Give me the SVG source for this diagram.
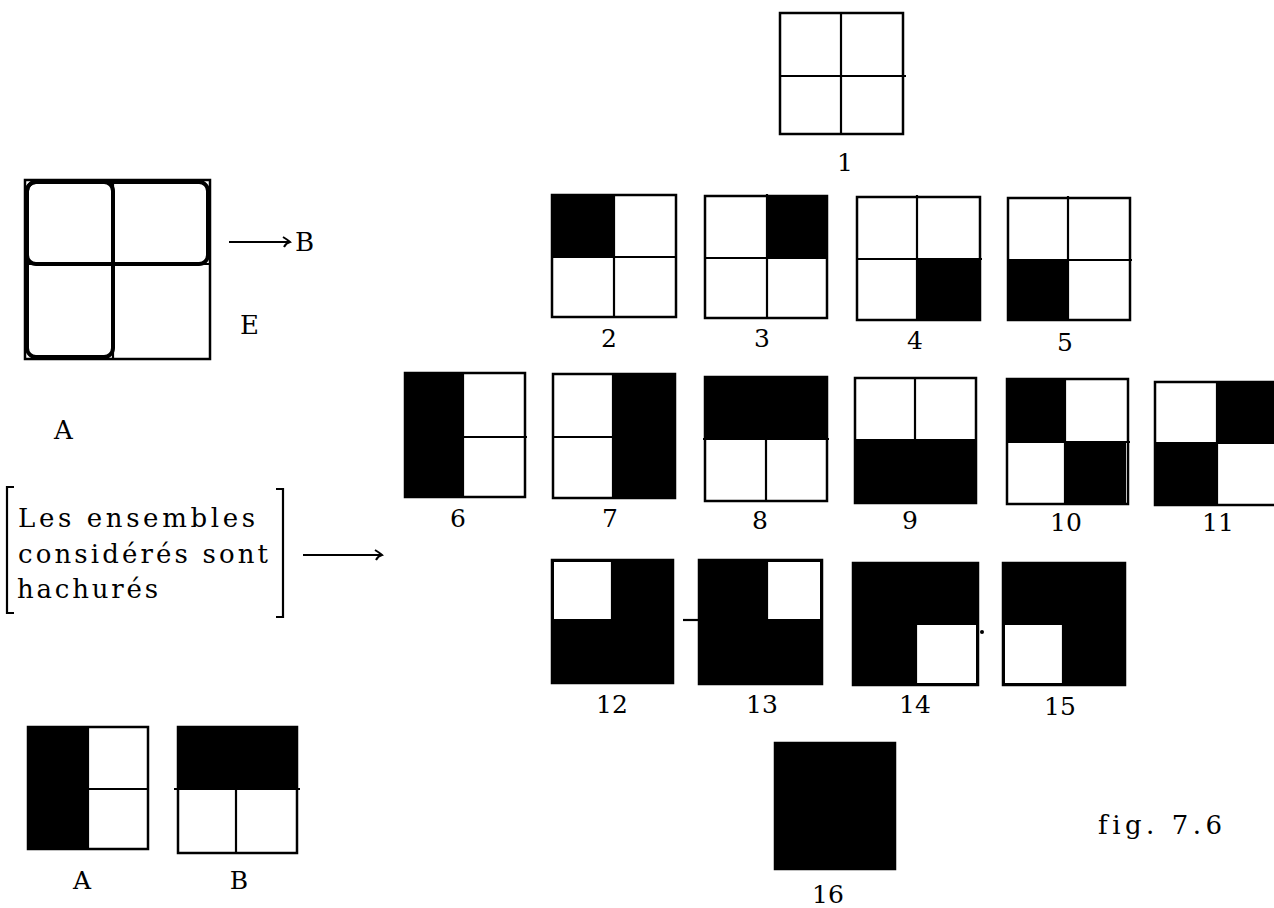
<svg xmlns="http://www.w3.org/2000/svg" width="1274" height="908" viewBox="0 0 1274 908">
<style>
.box{fill:none;stroke:#000;stroke-width:2.5}
.ln{stroke:#000;stroke-width:2.2;fill:none}
.f{fill:#000}
.t{font-family:"DejaVu Serif","Liberation Serif",serif;font-size:26px;fill:#000;font-variant-ligatures:none}
.n{font-family:"DejaVu Serif","Liberation Serif",serif;font-size:25px;fill:#000;text-anchor:middle}
.th{fill:none;stroke:#000;stroke-width:4}
</style>
<defs>
<marker id="ah" viewBox="0 0 12 12" refX="10" refY="6" markerWidth="12" markerHeight="12" markerUnits="userSpaceOnUse" orient="auto">
<path d="M3,1 Q8,4 10,6 Q6,7 4,11" fill="none" stroke="#000" stroke-width="2"/>
</marker>
</defs>
<rect width="1274" height="908" fill="#fff"/>

<g id="venn">
<rect class="box" x="25" y="180" width="185" height="179"/>
<line class="ln" x1="113" y1="180" x2="113" y2="359"/>
<line class="ln" x1="25" y1="264" x2="210" y2="264"/>
<rect class="th" x="27" y="182" width="181" height="82" rx="9"/>
<rect class="th" x="27" y="182" width="86" height="175" rx="9"/>
<text class="t" x="240" y="334">E</text>
<text class="t" x="54" y="439">A</text>
<text class="t" x="295" y="251">B</text>
</g>

<g id="note">
<path class="ln" d="M14,487 L7,487 L7,613 L14,613"/>
<path class="ln" d="M276,489 L283,489 L283,617 L276,617"/>
<text class="t" x="18" y="527" textLength="237" lengthAdjust="spacing">Les ensembles</text>
<text class="t" x="18" y="563" textLength="250" lengthAdjust="spacing">considérés sont</text>
<text class="t" x="17" y="598" textLength="141" lengthAdjust="spacing">hachurés</text>
</g>

<g id="setA">
<rect class="f" x="28" y="727" width="60" height="122"/>
<rect class="box" x="28" y="727" width="120" height="122"/>
<line class="ln" x1="88" y1="727" x2="88" y2="849"/>
<line class="ln" x1="88" y1="789" x2="148" y2="789"/>
<text class="n" x="82" y="889">A</text>
</g>
<g id="setB">
<rect class="f" x="178" y="727" width="119" height="62"/>
<rect class="box" x="178" y="727" width="119" height="126"/>
<line class="ln" x1="236" y1="789" x2="236" y2="853"/>
<line class="ln" x1="174" y1="789" x2="300" y2="789"/>
<text class="n" x="239" y="889">B</text>
</g>

<g id="b1">
<rect class="box" x="780" y="13" width="123" height="121"/>
<line class="ln" x1="841" y1="13" x2="841" y2="134"/>
<line class="ln" x1="780" y1="76" x2="906" y2="76"/>
<text class="n" x="845" y="171">1</text>
</g>

<g id="b2">
<rect class="f" x="552" y="195" width="62" height="62"/>
<rect class="box" x="552" y="195" width="124" height="122"/>
<line class="ln" x1="614" y1="195" x2="614" y2="317"/>
<line class="ln" x1="552" y1="257" x2="676" y2="257"/>
<text class="n" x="609" y="347">2</text>
</g>
<g id="b3">
<rect class="f" x="767" y="196" width="60" height="62"/>
<rect class="box" x="705" y="196" width="122" height="122"/>
<line class="ln" x1="767" y1="194" x2="767" y2="318"/>
<line class="ln" x1="705" y1="258" x2="827" y2="258"/>
<text class="n" x="762" y="347">3</text>
</g>
<g id="b4">
<rect class="f" x="917" y="259" width="63" height="61"/>
<rect class="box" x="857" y="197" width="123" height="123"/>
<line class="ln" x1="917" y1="195" x2="917" y2="320"/>
<line class="ln" x1="857" y1="259" x2="982" y2="259"/>
<text class="n" x="915" y="349">4</text>
</g>
<g id="b5">
<rect class="f" x="1008" y="260" width="60" height="60"/>
<rect class="box" x="1008" y="198" width="122" height="122"/>
<line class="ln" x1="1068" y1="196" x2="1068" y2="320"/>
<line class="ln" x1="1008" y1="260" x2="1132" y2="260"/>
<text class="n" x="1065" y="351">5</text>
</g>

<g id="b6">
<rect class="f" x="405" y="373" width="58" height="124"/>
<rect class="box" x="405" y="373" width="120" height="124"/>
<line class="ln" x1="463" y1="373" x2="463" y2="497"/>
<line class="ln" x1="463" y1="437" x2="527" y2="437"/>
<text class="n" x="458" y="527">6</text>
</g>
<g id="b7">
<rect class="f" x="613" y="374" width="62" height="124"/>
<rect class="box" x="553" y="374" width="122" height="124"/>
<line class="ln" x1="613" y1="374" x2="613" y2="498"/>
<line class="ln" x1="553" y1="437" x2="613" y2="437"/>
<text class="n" x="610" y="527">7</text>
</g>
<g id="b8">
<rect class="f" x="705" y="377" width="122" height="62"/>
<rect class="box" x="705" y="377" width="122" height="124"/>
<line class="ln" x1="766" y1="439" x2="766" y2="501"/>
<line class="ln" x1="703" y1="439" x2="829" y2="439"/>
<text class="n" x="760" y="529">8</text>
</g>
<g id="b9">
<rect class="f" x="855" y="440" width="121" height="63"/>
<rect class="box" x="855" y="378" width="121" height="125"/>
<line class="ln" x1="915" y1="378" x2="915" y2="440"/>
<line class="ln" x1="855" y1="440" x2="976" y2="440"/>
<text class="n" x="910" y="529">9</text>
</g>
<g id="b10">
<rect class="f" x="1007" y="379" width="58" height="63"/>
<rect class="f" x="1065" y="442" width="61" height="62"/>
<rect class="box" x="1007" y="379" width="121" height="125"/>
<line class="ln" x1="1065" y1="379" x2="1065" y2="504"/>
<line class="ln" x1="1007" y1="442" x2="1130" y2="442"/>
<text class="n" x="1066" y="531">10</text>
</g>
<g id="b11">
<rect class="f" x="1217" y="382" width="60" height="61"/>
<rect class="f" x="1155" y="443" width="62" height="62"/>
<rect class="box" x="1155" y="382" width="122" height="123"/>
<line class="ln" x1="1217" y1="382" x2="1217" y2="505"/>
<line class="ln" x1="1155" y1="443" x2="1277" y2="443"/>
<text class="n" x="1218" y="531">11</text>
</g>

<g id="b12">
<rect class="f" x="552" y="560" width="121" height="123"/>
<rect fill="#fff" x="554" y="562" width="58" height="58"/>
<rect class="box" x="552" y="560" width="121" height="123"/>
<line class="ln" x1="552" y1="620" x2="612" y2="620"/>
<line class="ln" x1="612" y1="560" x2="612" y2="620"/>
<text class="n" x="612" y="713">12</text>
</g>
<g id="b13">
<rect class="f" x="699" y="560" width="123" height="124"/>
<rect fill="#fff" x="767" y="562" width="53" height="58"/>
<rect class="box" x="699" y="560" width="123" height="124"/>
<line class="ln" x1="767" y1="620" x2="822" y2="620"/>
<line class="ln" x1="767" y1="560" x2="767" y2="620"/>
<line class="ln" x1="683" y1="620" x2="699" y2="620"/>
<text class="n" x="762" y="713">13</text>
</g>
<g id="b14">
<rect class="f" x="853" y="563" width="125" height="122"/>
<rect fill="#fff" x="916" y="624" width="60" height="59"/>
<rect class="box" x="853" y="563" width="125" height="122"/>
<line class="ln" x1="916" y1="624" x2="978" y2="624"/>
<line class="ln" x1="916" y1="624" x2="916" y2="685"/>
<circle class="f" cx="982" cy="632" r="2"/>
<text class="n" x="915" y="713">14</text>
</g>
<g id="b15">
<rect class="f" x="1003" y="563" width="122" height="122"/>
<rect fill="#fff" x="1005" y="624" width="58" height="59"/>
<rect class="box" x="1003" y="563" width="122" height="122"/>
<line class="ln" x1="1003" y1="624" x2="1063" y2="624"/>
<line class="ln" x1="1063" y1="624" x2="1063" y2="685"/>
<text class="n" x="1060" y="715">15</text>
</g>

<g id="b16">
<rect class="f" x="775" y="743" width="120" height="126"/>
<rect class="box" x="775" y="743" width="120" height="126"/>
<text class="n" x="828" y="903">16</text>
</g>

<g id="caption">
<text class="t" x="1098" y="834" textLength="124" lengthAdjust="spacing">fig. 7.6</text>
</g>

<g id="connectors">
<line class="ln" x1="229" y1="242" x2="290" y2="242" marker-end="url(#ah)"/>
<line class="ln" x1="303" y1="555" x2="382" y2="555" marker-end="url(#ah)"/>
</g>
</svg>
